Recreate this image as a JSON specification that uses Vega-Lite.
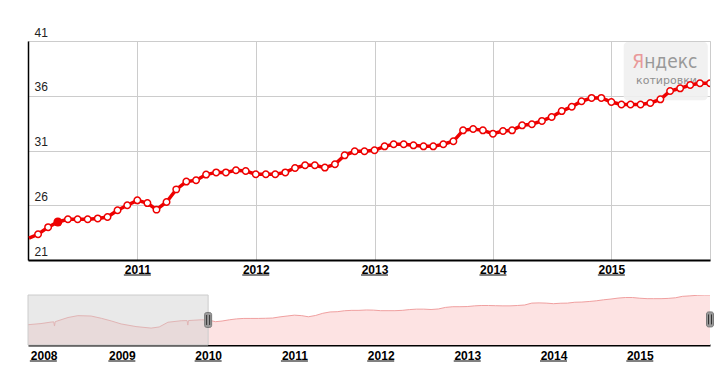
{
  "$schema": "https://vega.github.io/schema/vega-lite/v6.json",
  "background": "white",
  "autosize": {"type": "pad"},
  "padding": {"left": 27, "top": 25, "right": 10, "bottom": 5},
  "spacing": 35,
  "bounds": "flush",
  "config": {
    "font": "Liberation Sans",
    "view": {"stroke": "#cccccc"},
    "axis": {
      "labelFont": "Liberation Sans",
      "labelFontSize": 12,
      "labelColor": "#222222",
      "gridColor": "#cccccc",
      "gridWidth": 1,
      "domainColor": "#000000",
      "ticks": false,
      "title": null,
      "labelFlush": false
    }
  },
  "datasets": {
    "main": [
      {"date": "2010-02-01", "v": 23.0},
      {"date": "2010-03-01", "v": 23.35},
      {"date": "2010-04-01", "v": 24.0},
      {"date": "2010-05-01", "v": 24.47},
      {"date": "2010-06-01", "v": 24.72},
      {"date": "2010-07-01", "v": 24.72},
      {"date": "2010-08-01", "v": 24.72},
      {"date": "2010-09-01", "v": 24.8},
      {"date": "2010-10-01", "v": 24.93},
      {"date": "2010-11-01", "v": 25.54},
      {"date": "2010-12-01", "v": 26.0},
      {"date": "2011-01-01", "v": 26.45},
      {"date": "2011-02-01", "v": 26.2},
      {"date": "2011-03-01", "v": 25.6},
      {"date": "2011-04-01", "v": 26.3},
      {"date": "2011-05-01", "v": 27.45},
      {"date": "2011-06-01", "v": 28.16},
      {"date": "2011-07-01", "v": 28.28},
      {"date": "2011-08-01", "v": 28.8},
      {"date": "2011-09-01", "v": 29.0},
      {"date": "2011-10-01", "v": 29.0},
      {"date": "2011-11-01", "v": 29.2},
      {"date": "2011-12-01", "v": 29.13},
      {"date": "2012-01-01", "v": 28.83},
      {"date": "2012-02-01", "v": 28.83},
      {"date": "2012-03-01", "v": 28.83},
      {"date": "2012-04-01", "v": 29.0},
      {"date": "2012-05-01", "v": 29.4},
      {"date": "2012-06-01", "v": 29.65},
      {"date": "2012-07-01", "v": 29.65},
      {"date": "2012-08-01", "v": 29.44},
      {"date": "2012-09-01", "v": 29.74},
      {"date": "2012-10-01", "v": 30.56},
      {"date": "2012-11-01", "v": 30.93},
      {"date": "2012-12-01", "v": 30.93},
      {"date": "2013-01-01", "v": 31.02},
      {"date": "2013-02-01", "v": 31.38},
      {"date": "2013-03-01", "v": 31.57},
      {"date": "2013-04-01", "v": 31.57},
      {"date": "2013-05-01", "v": 31.47},
      {"date": "2013-06-01", "v": 31.38},
      {"date": "2013-07-01", "v": 31.38},
      {"date": "2013-08-01", "v": 31.57},
      {"date": "2013-09-01", "v": 31.84},
      {"date": "2013-10-01", "v": 32.84},
      {"date": "2013-11-01", "v": 32.96},
      {"date": "2013-12-01", "v": 32.84},
      {"date": "2014-01-01", "v": 32.54},
      {"date": "2014-02-01", "v": 32.78},
      {"date": "2014-03-01", "v": 32.84},
      {"date": "2014-04-01", "v": 33.3},
      {"date": "2014-05-01", "v": 33.4},
      {"date": "2014-06-01", "v": 33.7},
      {"date": "2014-07-01", "v": 34.06},
      {"date": "2014-08-01", "v": 34.6},
      {"date": "2014-09-01", "v": 35.0},
      {"date": "2014-10-01", "v": 35.5},
      {"date": "2014-11-01", "v": 35.8},
      {"date": "2014-12-01", "v": 35.8},
      {"date": "2015-01-01", "v": 35.43},
      {"date": "2015-02-01", "v": 35.2},
      {"date": "2015-03-01", "v": 35.2},
      {"date": "2015-04-01", "v": 35.2},
      {"date": "2015-05-01", "v": 35.34},
      {"date": "2015-06-01", "v": 35.67},
      {"date": "2015-07-01", "v": 36.43},
      {"date": "2015-08-01", "v": 36.68},
      {"date": "2015-09-01", "v": 36.98},
      {"date": "2015-10-01", "v": 37.14},
      {"date": "2015-11-01", "v": 37.14}
    ],
    "nav": [
      {"date": "2007-12-01", "v": 21.4},
      {"date": "2008-01-25", "v": 22.0},
      {"date": "2008-03-08", "v": 22.8},
      {"date": "2008-03-19", "v": 22.9},
      {"date": "2008-03-22", "v": 20.7},
      {"date": "2008-03-25", "v": 23.0},
      {"date": "2008-05-18", "v": 25.2},
      {"date": "2008-06-29", "v": 26.2},
      {"date": "2008-08-24", "v": 26.0},
      {"date": "2008-10-06", "v": 24.8},
      {"date": "2008-11-17", "v": 23.4},
      {"date": "2008-12-29", "v": 21.8},
      {"date": "2009-03-02", "v": 20.4},
      {"date": "2009-05-05", "v": 19.6},
      {"date": "2009-06-08", "v": 20.2},
      {"date": "2009-07-15", "v": 22.7},
      {"date": "2009-09-09", "v": 23.5},
      {"date": "2009-10-04", "v": 23.6},
      {"date": "2009-10-07", "v": 21.2},
      {"date": "2009-10-10", "v": 23.6},
      {"date": "2009-12-03", "v": 24.0},
      {"date": "2010-01-01", "v": 23.9},
      {"date": "2010-02-01", "v": 23.0},
      {"date": "2010-03-01", "v": 23.35},
      {"date": "2010-04-01", "v": 24.0},
      {"date": "2010-05-01", "v": 24.47},
      {"date": "2010-06-01", "v": 24.72},
      {"date": "2010-07-01", "v": 24.72},
      {"date": "2010-08-01", "v": 24.72},
      {"date": "2010-09-01", "v": 24.8},
      {"date": "2010-10-01", "v": 24.93},
      {"date": "2010-11-01", "v": 25.54},
      {"date": "2010-12-01", "v": 26.0},
      {"date": "2011-01-01", "v": 26.45},
      {"date": "2011-02-01", "v": 26.2},
      {"date": "2011-03-01", "v": 25.6},
      {"date": "2011-04-01", "v": 26.3},
      {"date": "2011-05-01", "v": 27.45},
      {"date": "2011-06-01", "v": 28.16},
      {"date": "2011-07-01", "v": 28.28},
      {"date": "2011-08-01", "v": 28.8},
      {"date": "2011-09-01", "v": 29.0},
      {"date": "2011-10-01", "v": 29.0},
      {"date": "2011-11-01", "v": 29.2},
      {"date": "2011-12-01", "v": 29.13},
      {"date": "2012-01-01", "v": 28.83},
      {"date": "2012-02-01", "v": 28.83},
      {"date": "2012-03-01", "v": 28.83},
      {"date": "2012-04-01", "v": 29.0},
      {"date": "2012-05-01", "v": 29.4},
      {"date": "2012-06-01", "v": 29.65},
      {"date": "2012-07-01", "v": 29.65},
      {"date": "2012-08-01", "v": 29.44},
      {"date": "2012-09-01", "v": 29.74},
      {"date": "2012-10-01", "v": 30.56},
      {"date": "2012-11-01", "v": 30.93},
      {"date": "2012-12-01", "v": 30.93},
      {"date": "2013-01-01", "v": 31.02},
      {"date": "2013-02-01", "v": 31.38},
      {"date": "2013-03-01", "v": 31.57},
      {"date": "2013-04-01", "v": 31.57},
      {"date": "2013-05-01", "v": 31.47},
      {"date": "2013-06-01", "v": 31.38},
      {"date": "2013-07-01", "v": 31.38},
      {"date": "2013-08-01", "v": 31.57},
      {"date": "2013-09-01", "v": 31.84},
      {"date": "2013-10-01", "v": 32.84},
      {"date": "2013-11-01", "v": 32.96},
      {"date": "2013-12-01", "v": 32.84},
      {"date": "2014-01-01", "v": 32.54},
      {"date": "2014-02-01", "v": 32.78},
      {"date": "2014-03-01", "v": 32.84},
      {"date": "2014-04-01", "v": 33.3},
      {"date": "2014-05-01", "v": 33.4},
      {"date": "2014-06-01", "v": 33.7},
      {"date": "2014-07-01", "v": 34.06},
      {"date": "2014-08-01", "v": 34.6},
      {"date": "2014-09-01", "v": 35.0},
      {"date": "2014-10-01", "v": 35.5},
      {"date": "2014-11-01", "v": 35.8},
      {"date": "2014-12-01", "v": 35.8},
      {"date": "2015-01-01", "v": 35.43},
      {"date": "2015-02-01", "v": 35.2},
      {"date": "2015-03-01", "v": 35.2},
      {"date": "2015-04-01", "v": 35.2},
      {"date": "2015-05-01", "v": 35.34},
      {"date": "2015-06-01", "v": 35.67},
      {"date": "2015-07-01", "v": 36.43},
      {"date": "2015-08-01", "v": 36.68},
      {"date": "2015-09-01", "v": 36.98},
      {"date": "2015-10-01", "v": 37.14},
      {"date": "2015-11-01", "v": 37.14}
    ],
    "mainYears": [
      {"d": "2011-01-01"}, {"d": "2012-01-01"}, {"d": "2013-01-01"}, {"d": "2014-01-01"}, {"d": "2015-01-01"}
    ],
    "navYears": [
      {"d": "2009-01-01"}, {"d": "2010-01-01"}, {"d": "2011-01-01"}, {"d": "2012-01-01"}, {"d": "2013-01-01"}, {"d": "2014-01-01"}, {"d": "2015-01-01"}
    ]
  },
  "vconcat": [
    {
      "width": 682,
      "height": 219,
      "layer": [
        {
          "data": {"name": "main"},
          "mark": {"type": "line", "color": "#ee0000", "strokeWidth": 3.5, "clip": true, "opacity": 0},
          "encoding": {
            "x": {
              "field": "date",
              "type": "temporal",
              "scale": {"domain": [{"year": 2010, "month": 1, "date": 29}, {"year": 2015, "month": 11, "date": 1}]},
              "axis": {
                "values": [{"year": 2011}, {"year": 2012}, {"year": 2013}, {"year": 2014}, {"year": 2015}],
                "format": "%Y",
                "labelFontWeight": "bold",
                "labelColor": "#000000",
                "labelPadding": 4,
                "grid": true,
                "domainWidth": 2
              }
            },
            "y": {
              "field": "v",
              "type": "quantitative",
              "scale": {"domain": [21, 41], "nice": false, "zero": false},
              "axis": {
                "values": [21, 26, 31, 36, 41],
                "labelAlign": "left",
                "labelBaseline": "alphabetic",
                "labelPadding": -6,
                "labelOffset": -5,
                "grid": true,
                "domainWidth": 1.5
              }
            }
          }
        },
        {
          "data": {"values": [{}]},
          "mark": {"type": "rect", "fill": "#efefef", "cornerRadius": 4, "fillOpacity": 0.9},
          "encoding": {
            "x": {"datum": {"year": 2015, "month": 2, "date": 8}, "type": "temporal"},
            "x2": {"datum": {"year": 2015, "month": 10, "date": 25}},
            "y": {"datum": 40.9, "type": "quantitative"},
            "y2": {"datum": 35.6}
          }
        },
        {
          "data": {"values": [{}]},
          "mark": {"type": "text", "text": "Я", "align": "right", "baseline": "alphabetic", "font": "DejaVu Sans Condensed", "fontSize": 19, "color": "#e99a9a"},
          "encoding": {
            "x": {"datum": {"year": 2015, "month": 4, "date": 12}, "type": "temporal"},
            "y": {"datum": 38.5, "type": "quantitative"}
          }
        },
        {
          "data": {"values": [{}]},
          "mark": {"type": "text", "text": "ндекс", "align": "left", "baseline": "alphabetic", "font": "DejaVu Sans Condensed", "fontSize": 19, "color": "#999999"},
          "encoding": {
            "x": {"datum": {"year": 2015, "month": 4, "date": 12}, "type": "temporal"},
            "y": {"datum": 38.5, "type": "quantitative"}
          }
        },
        {
          "data": {"values": [{}]},
          "mark": {"type": "text", "text": "котировки", "align": "left", "baseline": "alphabetic", "font": "DejaVu Sans", "fontSize": 11, "color": "#8f8f8f"},
          "encoding": {
            "x": {"datum": {"year": 2015, "month": 3, "date": 18}, "type": "temporal"},
            "y": {"datum": 37.1, "type": "quantitative"}
          }
        },
        {
          "data": {"name": "main"},
          "mark": {"type": "line", "color": "#ee0000", "strokeWidth": 3.5, "clip": true},
          "encoding": {
            "x": {"field": "date", "type": "temporal"},
            "y": {"field": "v", "type": "quantitative"}
          }
        },
        {
          "data": {"name": "main"},
          "transform": [{"filter": "time(toDate(datum.date)) >= time(toDate('2010-02-15'))"}],
          "mark": {"type": "point", "filled": true, "fill": "#ffffff", "stroke": "#ee0000", "strokeWidth": 1.5, "size": 42, "opacity": 1, "clip": true},
          "encoding": {
            "x": {"field": "date", "type": "temporal"},
            "y": {"field": "v", "type": "quantitative"}
          }
        },
        {
          "data": {"name": "main"},
          "transform": [{"filter": "time(toDate(datum.date)) == time(toDate('2010-05-01'))"}],
          "mark": {"type": "point", "filled": true, "color": "#ee0000", "size": 80, "opacity": 1},
          "encoding": {
            "x": {"field": "date", "type": "temporal"},
            "y": {"field": "v", "type": "quantitative"}
          }
        },
        {
          "data": {"name": "mainYears"},
          "mark": {"type": "tick", "orient": "horizontal", "size": 27, "thickness": 1, "color": "#000000", "opacity": 1, "yOffset": 15},
          "encoding": {
            "x": {"field": "d", "type": "temporal"},
            "y": {"datum": 21, "type": "quantitative"}
          }
        }
      ]
    },
    {
      "width": 682,
      "height": 50,
      "view": {"stroke": null},
      "layer": [
        {
          "data": {"name": "nav"},
          "mark": {"type": "area", "color": "#fde3e3", "opacity": 1, "clip": true, "line": {"color": "#f0a0a0", "strokeWidth": 1}},
          "encoding": {
            "x": {
              "field": "date",
              "type": "temporal",
              "scale": {"domain": [{"year": 2007, "month": 12, "date": 1}, {"year": 2015, "month": 10, "date": 25}]},
              "axis": {
                "values": [{"year": 2008}, {"year": 2009}, {"year": 2010}, {"year": 2011}, {"year": 2012}, {"year": 2013}, {"year": 2014}, {"year": 2015}],
                "format": "%Y",
                "labelFontWeight": "bold",
                "labelColor": "#000000",
                "labelPadding": 5,
                "grid": false,
                "domainWidth": 2,
                "labelFlush": 10,
                "labelFlushOffset": 5
              }
            },
            "y": {
              "field": "v",
              "type": "quantitative",
              "scale": {"domain": [10.64, 37.14], "nice": false, "zero": false},
              "axis": null
            }
          }
        },
        {
          "data": {"values": [{}]},
          "mark": {"type": "rect", "fill": "#cfcfcf", "fillOpacity": 0.45, "stroke": "#cccccc", "strokeOpacity": 1, "strokeWidth": 1},
          "encoding": {
            "x": {"datum": {"year": 2007, "month": 12, "date": 1}, "type": "temporal"},
            "x2": {"datum": {"year": 2010, "month": 1, "date": 1}},
            "y": {"datum": 37.14, "type": "quantitative"},
            "y2": {"datum": 10.64}
          }
        },
        {
          "data": {"values": [{}]},
          "mark": {"type": "tick", "orient": "vertical", "thickness": 7, "size": 15, "color": "#9a9a9a", "stroke": "#7a7a7a", "strokeWidth": 1, "cornerRadius": 2, "opacity": 1},
          "encoding": {
            "x": {"datum": {"year": 2010, "month": 1, "date": 1}, "type": "temporal"},
            "y": {"datum": 23.9, "type": "quantitative"}
          }
        },
        {
          "data": {"values": [{}]},
          "mark": {"type": "tick", "orient": "vertical", "thickness": 7, "size": 15, "color": "#9a9a9a", "stroke": "#7a7a7a", "strokeWidth": 1, "cornerRadius": 2, "opacity": 1},
          "encoding": {
            "x": {"datum": {"year": 2015, "month": 10, "date": 25}, "type": "temporal"},
            "y": {"datum": 24.2, "type": "quantitative"}
          }
        },
        {
          "data": {"values": [{}]},
          "mark": {"type": "point", "shape": "M-0.3,-1V1M0.3,-1V1", "size": 100, "filled": false, "stroke": "#333333", "strokeWidth": 1, "opacity": 1},
          "encoding": {
            "x": {"datum": {"year": 2010, "month": 1, "date": 1}, "type": "temporal"},
            "y": {"datum": 23.9, "type": "quantitative"}
          }
        },
        {
          "data": {"values": [{}]},
          "mark": {"type": "point", "shape": "M-0.3,-1V1M0.3,-1V1", "size": 100, "filled": false, "stroke": "#333333", "strokeWidth": 1, "opacity": 1},
          "encoding": {
            "x": {"datum": {"year": 2015, "month": 10, "date": 25}, "type": "temporal"},
            "y": {"datum": 24.2, "type": "quantitative"}
          }
        },
        {
          "data": {"name": "navYears"},
          "mark": {"type": "tick", "orient": "horizontal", "size": 27, "thickness": 1, "color": "#000000", "opacity": 1, "yOffset": 16},
          "encoding": {
            "x": {"field": "d", "type": "temporal"},
            "y": {"datum": 10.64, "type": "quantitative"}
          }
        },
        {
          "data": {"values": [{}]},
          "mark": {"type": "tick", "orient": "horizontal", "size": 27, "thickness": 1, "color": "#000000", "opacity": 1, "yOffset": 16, "xOffset": 8},
          "encoding": {
            "x": {"datum": {"year": 2008, "month": 1, "date": 1}, "type": "temporal"},
            "y": {"datum": 10.64, "type": "quantitative"}
          }
        }
      ]
    }
  ]
}
